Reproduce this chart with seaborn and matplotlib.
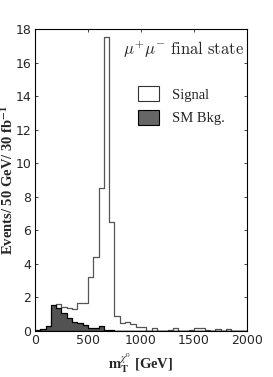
import numpy as np
import pandas as pd
import seaborn as sns
import matplotlib.pyplot as plt
from matplotlib.patches import Patch

# 50 GeV bins from 0 to 2000 GeV
bin_width = 50
bin_edges = np.arange(0, 2000 + bin_width, bin_width).tolist()
bin_centers = [e + bin_width / 2 for e in bin_edges[:-1]]

# events per bin
signal = [0.0, 0.05, 0.1, 0.6, 1.6, 1.42, 1.38, 1.3, 1.65, 1.65,
          3.2, 4.4, 8.5, 17.5, 6.5, 0.9, 0.5, 0.55, 0.4, 0.25,
          0.25, 0.0, 0.15, 0.0, 0.0, 0.05, 0.2, 0.0, 0.0, 0.05,
          0.15, 0.15, 0.05, 0.0, 0.1, 0.0, 0.1, 0.0, 0.0, 0.0]
background = [0.08, 0.12, 0.28, 1.55, 1.35, 1.05, 0.75, 0.55, 0.45, 0.35,
              0.2, 0.15, 0.3, 0.07, 0.05, 0.03, 0.02, 0.02, 0.02, 0.02,
              0.02, 0.02, 0.02, 0.02, 0.02, 0.02, 0.02, 0.02, 0.02, 0.02,
              0.02, 0.02, 0.02, 0.02, 0.02, 0.02, 0.02, 0.02, 0.02, 0.02]

df = pd.DataFrame({'mass': bin_centers, 'signal': signal, 'background': background})

sns.set_style("white")
plt.rcParams['xtick.direction'] = 'in'
plt.rcParams['ytick.direction'] = 'in'

fig = plt.figure(figsize=(2.73, 3.77), dpi=100)
ax = fig.add_axes([0.128, 0.122, 0.777, 0.801])

sns.histplot(data=df, x='mass', weights='signal', bins=bin_edges, element='step',
             fill=True, color='white', edgecolor='#555555', alpha=1, linewidth=0.9, ax=ax)
sns.histplot(data=df, x='mass', weights='background', bins=bin_edges, element='step',
             fill=True, color='#525252', edgecolor='black', alpha=1, linewidth=0.9, ax=ax)

ax.set_xlim(0, 2000)
ax.set_ylim(0, 18)
ax.set_xticks([0, 500, 1000, 1500, 2000])
ax.set_yticks(range(0, 19, 2))
ax.tick_params(axis='both', which='both', top=True, right=True, bottom=True, left=True,
               length=2.5, width=0.6, labelsize=9, pad=2.5)
for lab in ax.get_xticklabels() + ax.get_yticklabels():
    lab.set_family('DejaVu Sans')
for spine in ax.spines.values():
    spine.set_color('black')
    spine.set_linewidth(0.8)

ax.set_ylabel(r'Events/ 50 GeV/ 30 fb$^{\mathbf{-1}}$', fontsize=10.5, fontweight='bold',
              family='Liberation Serif', math_fontfamily='stix', labelpad=0)
ax.set_xlabel(r'$\mathbf{m}_{\mathbf{T}}^{\chi^{0}}$ [GeV]', fontsize=10.5, fontweight='bold',
              family='Liberation Serif', math_fontfamily='stix', labelpad=3)

ax.text(0.985, 0.915, r'$\mu^{+}\mu^{-}\ \mathrm{final\ state}$', transform=ax.transAxes,
        ha='right', va='baseline', fontsize=12, math_fontfamily='cm')

handles = [Patch(facecolor='white', edgecolor='#333333', linewidth=0.8, label='Signal'),
           Patch(facecolor='#666666', edgecolor='black', linewidth=0.8, label='SM Bkg.')]
ax.legend(handles=handles, loc='upper left', bbox_to_anchor=(0.459, 0.83), frameon=False,
          prop={'family': 'Liberation Serif', 'size': 10.5}, handlelength=1.45, handleheight=1.2,
          handletextpad=0.85, labelspacing=0.55, borderaxespad=0)

fig.savefig('out.png', dpi=100)
